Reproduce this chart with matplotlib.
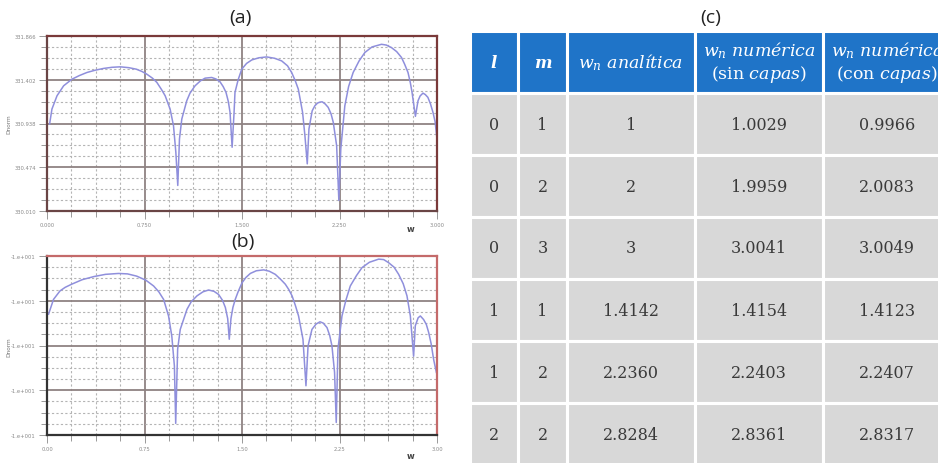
import numpy as np
import matplotlib
matplotlib.use('Agg')
import matplotlib.pyplot as plt
from matplotlib.ticker import AutoMinorLocator

plt.rcParams['mathtext.fontset'] = 'dejavuserif'

# curve (a): w vs Dnorm
wa = [0.02, 0.038, 0.077, 0.128, 0.192, 0.25, 0.307, 0.37, 0.435, 0.50,
      0.563, 0.63, 0.687, 0.73, 0.768, 0.81, 0.845, 0.88, 0.909, 0.947,
      0.973, 0.991, 1.006, 1.019, 1.037, 1.075, 1.10, 1.139, 1.18, 1.216,
      1.267, 1.30, 1.331, 1.355, 1.377, 1.395, 1.408, 1.424, 1.439, 1.446,
      1.47, 1.498, 1.535, 1.575, 1.63, 1.690, 1.75, 1.805, 1.85, 1.882,
      1.91, 1.933, 1.966, 1.984, 2.002, 2.015, 2.040, 2.06, 2.081, 2.10,
      2.117, 2.14, 2.163, 2.185, 2.202, 2.228, 2.245, 2.260, 2.291, 2.32,
      2.355, 2.40, 2.445, 2.50, 2.573, 2.61, 2.650, 2.69, 2.727, 2.75,
      2.777, 2.795, 2.808, 2.834, 2.854, 2.87, 2.892, 2.91, 2.930, 2.95,
      2.969, 2.985, 2.998]
da = [330.933, 331.091, 331.232, 331.338, 331.408, 331.447, 331.479, 331.503, 331.522, 331.534,
      331.539, 331.530, 331.514, 331.490, 331.461, 331.420, 331.374, 331.300, 331.232, 331.091,
      330.915, 330.634, 330.281, 330.774, 330.986, 331.179, 331.260, 331.338, 331.390, 331.419,
      331.426, 331.410, 331.380, 331.330, 331.268, 331.170, 331.056, 330.686, 331.056, 331.268,
      331.400, 331.514, 331.575, 331.612, 331.635, 331.644, 331.630, 331.602, 331.550, 331.479,
      331.390, 331.303, 331.056, 330.809, 330.510, 330.880, 331.073, 331.125, 331.155, 331.165,
      331.168, 331.145, 331.109, 331.040, 330.951, 330.703, 330.122, 330.669, 331.126, 331.330,
      331.479, 331.600, 331.691, 331.750, 331.778, 331.770, 331.743, 331.700, 331.638, 331.570,
      331.479, 331.370, 331.268, 331.014, 331.179, 331.230, 331.260, 331.245, 331.215, 331.145,
      331.056, 330.960, 330.800]

# curve (b)
wb = [0.012, 0.05, 0.10, 0.14, 0.19, 0.27, 0.36, 0.45, 0.55, 0.62,
      0.69, 0.76, 0.82, 0.86, 0.897, 0.935, 0.96, 0.98, 0.99, 1.005,
      1.025, 1.077, 1.11, 1.154, 1.20, 1.243, 1.285, 1.32, 1.35, 1.372,
      1.39, 1.402, 1.415, 1.43, 1.448, 1.47, 1.5, 1.53, 1.564, 1.61,
      1.667, 1.71, 1.756, 1.80, 1.833, 1.86, 1.885, 1.91, 1.935, 1.969,
      1.992, 2.008, 2.038, 2.07, 2.10, 2.125, 2.154, 2.175, 2.192, 2.212,
      2.225, 2.238, 2.269, 2.30, 2.333, 2.38, 2.423, 2.48, 2.551, 2.59,
      2.628, 2.67, 2.705, 2.74, 2.769, 2.795, 2.82, 2.833, 2.855, 2.872,
      2.897, 2.918, 2.936, 2.955, 2.974, 2.995]
db = [-10.130, -10.097, -10.078, -10.070, -10.063, -10.053, -10.046, -10.041, -10.039, -10.040,
      -10.045, -10.054, -10.067, -10.080, -10.097, -10.134, -10.179, -10.246, -10.374, -10.208,
      -10.164, -10.119, -10.102, -10.089, -10.080, -10.076, -10.079, -10.086, -10.099, -10.115,
      -10.140, -10.186, -10.140, -10.115, -10.097, -10.080, -10.060, -10.048, -10.039, -10.033,
      -10.031, -10.034, -10.041, -10.053, -10.063, -10.075, -10.089, -10.110, -10.134, -10.186,
      -10.290, -10.201, -10.164, -10.152, -10.147, -10.150, -10.160, -10.178, -10.201, -10.260,
      -10.372, -10.208, -10.134, -10.098, -10.067, -10.044, -10.026, -10.014, -10.007, -10.008,
      -10.015, -10.025, -10.041, -10.062, -10.089, -10.134, -10.224, -10.156, -10.138, -10.134,
      -10.142, -10.153, -10.171, -10.196, -10.231, -10.260]

xticks = [0.0, 0.75, 1.5, 2.25, 3.0]
yticks_a = [330.010, 330.474, 330.938, 331.402, 331.866]
yticks_b = [-10.4, -10.3, -10.2, -10.1, -10.0]

# table (c)
headers = ['l', 'm', r'$w_n\ analítica$',
           r'$w_n\ numérica$' + '\n' + r'$(\mathrm{sin}\ capas)$',
           r'$w_n\ numérica$' + '\n' + r'$(\mathrm{con}\ capas)$']
l_vals = ['0', '0', '0', '1', '1', '2']
m_vals = ['1', '2', '3', '1', '2', '2']
w_anal = ['1', '2', '3', '1.4142', '2.2360', '2.8284']
w_sin = ['1.0029', '1.9959', '3.0041', '1.4154', '2.2403', '2.8361']
w_con = ['0.9966', '2.0083', '3.0049', '1.4123', '2.2407', '2.8317']

W, H = 938, 464
fig = plt.figure(figsize=(W / 100, H / 100), dpi=100)


def px_rect(x0, y0, x1, y1):
    return [x0 / W, 1 - y1 / H, (x1 - x0) / W, (y1 - y0) / H]


def style_plot(ax, ylim, yticks, ylabels, xlabels, frame):
    ax.set_xlim(0, 3)
    ax.set_ylim(*ylim)
    ax.set_xticks(xticks)
    ax.set_xticklabels(xlabels)
    ax.set_yticks(yticks)
    ax.set_yticklabels(ylabels)
    ax.xaxis.set_minor_locator(AutoMinorLocator(4))
    ax.yaxis.set_minor_locator(AutoMinorLocator(4))
    ax.grid(which='major', color='#8f8282', lw=1.3, ls='-')
    ax.grid(which='minor', color='#b4b4b4', lw=0.8, ls=(0, (2, 2)))
    ax.tick_params(which='both', direction='out', colors='#999999',
                   labelsize=3.8, labelcolor='#8a8a8a', width=0.7)
    ax.tick_params(which='major', length=6, pad=2)
    ax.tick_params(which='minor', length=4)
    for side, c in frame.items():
        ax.spines[side].set_color(c)
        ax.spines[side].set_linewidth(1.6)
    ax.set_axisbelow(True)


ax1 = fig.add_axes(px_rect(47, 37, 437, 212))
ax1.plot(wa, da, color='#8f8fdc', lw=1.1)
style_plot(ax1, (330.010, 331.866), yticks_a, ['%.3f' % v for v in yticks_a],
           ['%.3f' % v for v in xticks],
           {'left': '#6a4545', 'bottom': '#6a4545', 'top': '#7a3a3a', 'right': '#7a3a3a'})

ax2 = fig.add_axes(px_rect(47, 257, 437, 436))
ax2.plot(wb, db, color='#8f8fdc', lw=1.1)
style_plot(ax2, (-10.4, -10.0), yticks_b, ['-1.e+001'] * 5,
           ['%.2f' % v for v in xticks],
           {'left': '#333333', 'bottom': '#333333', 'top': '#c46a6a', 'right': '#c46a6a'})

for y in (124, 347):
    fig.text(9 / W, 1 - y / H, 'Dnorm', rotation=90, fontsize=4.2,
             color='#777777', ha='center', va='center')
fig.text(411 / W, 1 - 230 / H, 'w', fontsize=6, color='#444444',
         ha='center', va='center', fontweight='bold')
fig.text(411 / W, 1 - 457 / H, 'w', fontsize=6, color='#444444',
         ha='center', va='center', fontweight='bold')

for lab, x, y in (('(a)', 240, 18), ('(b)', 243, 242), ('(c)', 711, 18)):
    fig.text(x / W, 1 - y / H, lab, fontsize=14, color='#222222',
             ha='center', va='center', family='Open Sans')

# table
tax = fig.add_axes([0, 0, 1, 1])
tax.axis('off')
col_w = [48, 49, 128, 128, 128]
tot = sum(col_w)
rows = list(zip(l_vals, m_vals, w_anal, w_sin, w_con))
tbl = tax.table(cellText=rows, colLabels=headers, cellLoc='center',
                colWidths=[c / tot for c in col_w],
                bbox=[470 / W, 1 - 466 / H, tot / W, (466 - 32) / H])
tbl.auto_set_font_size(False)
for (r, c), cell in tbl.get_celld().items():
    cell.set_edgecolor('white')
    cell.set_linewidth(2.2)
    txt = cell.get_text()
    if r == 0:
        cell.set_facecolor('#1f74c8')
        txt.set_color('white')
        txt.set_fontsize(12.5)
        if c < 2:
            txt.set_fontstyle('italic')
            txt.set_fontweight('bold')
            txt.set_family('DejaVu Serif')
            txt.set_fontsize(12)
    else:
        cell.set_facecolor('#d8d8d8')
        txt.set_color('#3a3a3a')
        txt.set_fontsize(11.5)
        txt.set_family('DejaVu Serif')

fig.savefig('out.png', dpi=100, facecolor='white')
